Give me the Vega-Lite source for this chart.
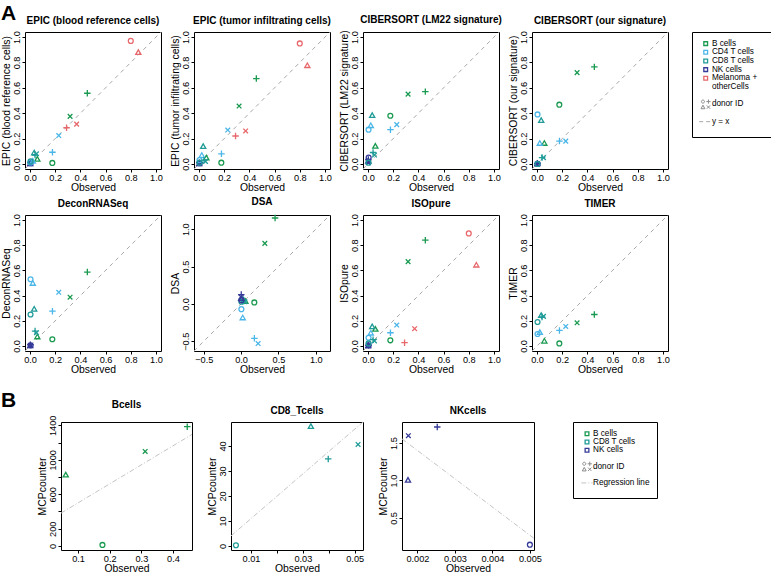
{
"$schema": "https://vega.github.io/schema/vega-lite/v6.json",
"background": "white",
"padding": {"left": 0, "top": 2, "right": 0, "bottom": 0},
"autosize": {"type": "pad"},
"config": {
 "font": "Liberation Sans",
 "view": {"stroke": "black", "strokeWidth": 1},
 "axis": {"domain": false, "grid": false, "tickColor": "black", "tickSize": 3, "tickWidth": 1, "labelColor": "black", "labelFontSize": 9.2, "labelPadding": 1, "titleColor": "black", "titleFontSize": 10.4, "titleFontWeight": "normal", "titlePadding": 1, "labelOverlap": false, "labelFlush": false},
 "axisBottom": {"titlePadding": 0},
 "axisLeft": {"labelAngle": 270, "labelAlign": "center", "labelBaseline": "bottom"},
 "title": {"fontSize": 10, "fontWeight": "bold", "color": "black", "offset": 5, "frame": "group"}
},
"datasets": {
 "lines": [
  {"p":"e1","x":-0.04,"y":-0.04,"x2":1.04,"y2":1.04},
  {"p":"e2","x":-0.04,"y":-0.04,"x2":1.04,"y2":1.04},
  {"p":"c1","x":-0.04,"y":-0.04,"x2":1.04,"y2":1.04},
  {"p":"c2","x":-0.04,"y":-0.04,"x2":1.04,"y2":1.04},
  {"p":"dr","x":-0.04,"y":-0.04,"x2":1.04,"y2":1.04},
  {"p":"ds","x":-0.63,"y":-0.63,"x2":1.19,"y2":1.19},
  {"p":"is","x":-0.04,"y":-0.04,"x2":1.04,"y2":1.04},
  {"p":"ti","x":-0.04,"y":-0.04,"x2":1.04,"y2":1.04},
  {"p":"mb","x":0.046,"y":381,"x2":0.46,"y2":1295},
  {"p":"m8","x":0.0023,"y":4.0,"x2":0.0532,"y2":49.6},
  {"p":"mn","x":0.00159,"y":1.555,"x2":0.00511,"y2":0.228}
 ],
 "pts": [
  {"p":"e1","c":"NK","d":"o","x":0.005,"y":0.005},{"p":"e1","c":"NK","d":"t","x":0.0017,"y":0.0},{"p":"e1","c":"NK","d":"p","x":0.0025,"y":0.01},{"p":"e1","c":"NK","d":"x","x":0.0017,"y":0.003},
  {"p":"e1","c":"B","d":"o","x":0.177,"y":0.008},{"p":"e1","c":"B","d":"t","x":0.058,"y":0.035},{"p":"e1","c":"B","d":"p","x":0.455,"y":0.557},{"p":"e1","c":"B","d":"x","x":0.318,"y":0.375},
  {"p":"e1","c":"CD4","d":"o","x":0.004,"y":0.012},{"p":"e1","c":"CD4","d":"t","x":0.022,"y":0.02},{"p":"e1","c":"CD4","d":"p","x":0.178,"y":0.092},{"p":"e1","c":"CD4","d":"x","x":0.228,"y":0.224},
  {"p":"e1","c":"CD8","d":"o","x":0.004,"y":0.02},{"p":"e1","c":"CD8","d":"t","x":0.033,"y":0.085},{"p":"e1","c":"CD8","d":"p","x":0.04,"y":0.07},{"p":"e1","c":"CD8","d":"x","x":0.051,"y":0.08},
  {"p":"e1","c":"Mel","d":"o","x":0.8,"y":0.97},{"p":"e1","c":"Mel","d":"t","x":0.86,"y":0.876},{"p":"e1","c":"Mel","d":"p","x":0.29,"y":0.285},{"p":"e1","c":"Mel","d":"x","x":0.37,"y":0.314},

  {"p":"e2","c":"NK","d":"o","x":0.005,"y":0.005},{"p":"e2","c":"NK","d":"t","x":0.0017,"y":0.0},{"p":"e2","c":"NK","d":"p","x":0.0025,"y":0.01},{"p":"e2","c":"NK","d":"x","x":0.0017,"y":0.003},
  {"p":"e2","c":"B","d":"o","x":0.177,"y":0.01},{"p":"e2","c":"B","d":"t","x":0.058,"y":0.045},{"p":"e2","c":"B","d":"p","x":0.455,"y":0.673},{"p":"e2","c":"B","d":"x","x":0.318,"y":0.456},
  {"p":"e2","c":"CD4","d":"o","x":0.004,"y":0.03},{"p":"e2","c":"CD4","d":"t","x":0.022,"y":0.065},{"p":"e2","c":"CD4","d":"p","x":0.178,"y":0.08},{"p":"e2","c":"CD4","d":"x","x":0.228,"y":0.267},
  {"p":"e2","c":"CD8","d":"o","x":0.004,"y":0.01},{"p":"e2","c":"CD8","d":"t","x":0.033,"y":0.135},{"p":"e2","c":"CD8","d":"p","x":0.04,"y":0.03},{"p":"e2","c":"CD8","d":"x","x":0.051,"y":0.02},
  {"p":"e2","c":"Mel","d":"o","x":0.8,"y":0.95},{"p":"e2","c":"Mel","d":"t","x":0.86,"y":0.773},{"p":"e2","c":"Mel","d":"p","x":0.29,"y":0.22},{"p":"e2","c":"Mel","d":"x","x":0.37,"y":0.26},

  {"p":"c1","c":"NK","d":"o","x":0.005,"y":0.05},{"p":"c1","c":"NK","d":"t","x":0.0017,"y":0.02},{"p":"c1","c":"NK","d":"p","x":0.0025,"y":0.035},{"p":"c1","c":"NK","d":"x","x":0.0017,"y":0.01},
  {"p":"c1","c":"B","d":"o","x":0.177,"y":0.38},{"p":"c1","c":"B","d":"t","x":0.058,"y":0.137},{"p":"c1","c":"B","d":"p","x":0.455,"y":0.57},{"p":"c1","c":"B","d":"x","x":0.318,"y":0.55},
  {"p":"c1","c":"CD4","d":"o","x":0.004,"y":0.27},{"p":"c1","c":"CD4","d":"t","x":0.022,"y":0.3},{"p":"c1","c":"CD4","d":"p","x":0.178,"y":0.27},{"p":"c1","c":"CD4","d":"x","x":0.228,"y":0.31},
  {"p":"c1","c":"CD8","d":"o","x":0.004,"y":0.01},{"p":"c1","c":"CD8","d":"t","x":0.033,"y":0.38},{"p":"c1","c":"CD8","d":"p","x":0.04,"y":0.09},{"p":"c1","c":"CD8","d":"x","x":0.051,"y":0.07},

  {"p":"c2","c":"NK","d":"o","x":0.005,"y":0.0},{"p":"c2","c":"NK","d":"t","x":0.0017,"y":0.0},{"p":"c2","c":"NK","d":"p","x":0.0025,"y":0.005},{"p":"c2","c":"NK","d":"x","x":0.0017,"y":0.0},
  {"p":"c2","c":"B","d":"o","x":0.177,"y":0.467},{"p":"c2","c":"B","d":"t","x":0.058,"y":0.16},{"p":"c2","c":"B","d":"p","x":0.455,"y":0.765},{"p":"c2","c":"B","d":"x","x":0.318,"y":0.72},
  {"p":"c2","c":"CD4","d":"o","x":0.004,"y":0.39},{"p":"c2","c":"CD4","d":"t","x":0.022,"y":0.16},{"p":"c2","c":"CD4","d":"p","x":0.178,"y":0.18},{"p":"c2","c":"CD4","d":"x","x":0.228,"y":0.18},
  {"p":"c2","c":"CD8","d":"o","x":0.004,"y":0.0},{"p":"c2","c":"CD8","d":"t","x":0.033,"y":0.34},{"p":"c2","c":"CD8","d":"p","x":0.04,"y":0.05},{"p":"c2","c":"CD8","d":"x","x":0.051,"y":0.05},

  {"p":"dr","c":"NK","d":"o","x":0.005,"y":0.005},{"p":"dr","c":"NK","d":"t","x":0.0017,"y":0.0},{"p":"dr","c":"NK","d":"p","x":0.0025,"y":0.01},{"p":"dr","c":"NK","d":"x","x":0.0017,"y":0.005},
  {"p":"dr","c":"B","d":"o","x":0.177,"y":0.053},{"p":"dr","c":"B","d":"t","x":0.058,"y":0.07},{"p":"dr","c":"B","d":"p","x":0.455,"y":0.587},{"p":"dr","c":"B","d":"x","x":0.318,"y":0.387},
  {"p":"dr","c":"CD4","d":"o","x":0.004,"y":0.53},{"p":"dr","c":"CD4","d":"t","x":0.022,"y":0.495},{"p":"dr","c":"CD4","d":"p","x":0.178,"y":0.276},{"p":"dr","c":"CD4","d":"x","x":0.228,"y":0.426},
  {"p":"dr","c":"CD8","d":"o","x":0.004,"y":0.25},{"p":"dr","c":"CD8","d":"t","x":0.033,"y":0.29},{"p":"dr","c":"CD8","d":"p","x":0.04,"y":0.118},{"p":"dr","c":"CD8","d":"x","x":0.051,"y":0.105},

  {"p":"ds","c":"B","d":"o","x":0.177,"y":0.02},{"p":"ds","c":"B","d":"t","x":0.058,"y":0.03},{"p":"ds","c":"B","d":"p","x":0.455,"y":1.15},{"p":"ds","c":"B","d":"x","x":0.318,"y":0.81},
  {"p":"ds","c":"CD4","d":"o","x":0.004,"y":-0.07},{"p":"ds","c":"CD4","d":"t","x":0.022,"y":-0.19},{"p":"ds","c":"CD4","d":"p","x":0.178,"y":-0.46},{"p":"ds","c":"CD4","d":"x","x":0.228,"y":-0.53},
  {"p":"ds","c":"CD8","d":"o","x":0.004,"y":0.03},{"p":"ds","c":"CD8","d":"t","x":0.033,"y":0.05},{"p":"ds","c":"CD8","d":"p","x":0.04,"y":0.04},{"p":"ds","c":"CD8","d":"x","x":0.051,"y":0.03},
  {"p":"ds","c":"NK","d":"o","x":0.005,"y":0.05},{"p":"ds","c":"NK","d":"t","x":0.0017,"y":0.07},{"p":"ds","c":"NK","d":"p","x":0.0025,"y":0.125},{"p":"ds","c":"NK","d":"x","x":0.0017,"y":0.09},

  {"p":"is","c":"NK","d":"o","x":0.005,"y":0.005},{"p":"is","c":"NK","d":"t","x":0.0017,"y":0.0},{"p":"is","c":"NK","d":"p","x":0.0025,"y":0.005},{"p":"is","c":"NK","d":"x","x":0.0017,"y":0.0},
  {"p":"is","c":"B","d":"o","x":0.177,"y":0.045},{"p":"is","c":"B","d":"t","x":0.058,"y":0.13},{"p":"is","c":"B","d":"p","x":0.455,"y":0.84},{"p":"is","c":"B","d":"x","x":0.318,"y":0.67},
  {"p":"is","c":"CD4","d":"o","x":0.004,"y":0.065},{"p":"is","c":"CD4","d":"t","x":0.022,"y":0.1},{"p":"is","c":"CD4","d":"p","x":0.178,"y":0.105},{"p":"is","c":"CD4","d":"x","x":0.228,"y":0.166},
  {"p":"is","c":"CD8","d":"o","x":0.004,"y":0.02},{"p":"is","c":"CD8","d":"t","x":0.033,"y":0.15},{"p":"is","c":"CD8","d":"p","x":0.04,"y":0.05},{"p":"is","c":"CD8","d":"x","x":0.051,"y":0.04},
  {"p":"is","c":"Mel","d":"o","x":0.8,"y":0.894},{"p":"is","c":"Mel","d":"t","x":0.86,"y":0.64},{"p":"is","c":"Mel","d":"p","x":0.29,"y":0.026},{"p":"is","c":"Mel","d":"x","x":0.37,"y":0.137},

  {"p":"ti","c":"B","d":"o","x":0.177,"y":0.02},{"p":"ti","c":"B","d":"t","x":0.058,"y":0.036},{"p":"ti","c":"B","d":"p","x":0.455,"y":0.25},{"p":"ti","c":"B","d":"x","x":0.318,"y":0.184},
  {"p":"ti","c":"CD4","d":"o","x":0.004,"y":0.095},{"p":"ti","c":"CD4","d":"t","x":0.022,"y":0.105},{"p":"ti","c":"CD4","d":"p","x":0.178,"y":0.123},{"p":"ti","c":"CD4","d":"x","x":0.228,"y":0.155},
  {"p":"ti","c":"CD8","d":"o","x":0.004,"y":0.19},{"p":"ti","c":"CD8","d":"t","x":0.033,"y":0.24},{"p":"ti","c":"CD8","d":"p","x":0.04,"y":0.23},{"p":"ti","c":"CD8","d":"x","x":0.051,"y":0.235},

  {"p":"mb","c":"B","d":"t","x":0.061,"y":821},{"p":"mb","c":"B","d":"o","x":0.177,"y":12},{"p":"mb","c":"B","d":"x","x":0.312,"y":1097},{"p":"mb","c":"B","d":"p","x":0.445,"y":1385},
  {"p":"m8","c":"CD8","d":"o","x":0.0042,"y":0.24},{"p":"m8","c":"CD8","d":"t","x":0.0331,"y":47.7},{"p":"m8","c":"CD8","d":"p","x":0.0398,"y":34.8},{"p":"m8","c":"CD8","d":"x","x":0.0513,"y":40.6},
  {"p":"mn","c":"NK","d":"x","x":0.00176,"y":1.597},{"p":"mn","c":"NK","d":"t","x":0.00175,"y":1.0},{"p":"mn","c":"NK","d":"p","x":0.00253,"y":1.713},{"p":"mn","c":"NK","d":"o","x":0.005,"y":0.144}
 ]
},
"columns": 2,
"bounds": "flush",
"align": {"row": "each", "column": "none"},
"spacing": {"row": 46, "column": 1},
"concat": [
 {"width": 21, "height": 137, "view": {"stroke": "transparent"}, "title": {"text": "A", "anchor": "start", "frame": "group", "fontSize": 21, "offset": 8, "dx": -2}, "data": {"values": [{"k": 1}]}, "mark": {"type": "point", "opacity": 0}},
 {"hconcat": [
  {"width": 136, "height": 137, "title": "EPIC (blood reference cells)",
   "encoding": {"x": {"field": "x", "type": "quantitative", "scale": {"domain": [-0.04, 1.04], "nice": false, "zero": false}, "axis": {"title": "Observed", "values": [0, 0.2, 0.4, 0.6, 0.8, 1], "format": ".1f"}},
                "y": {"field": "y", "type": "quantitative", "scale": {"domain": [-0.04, 1.04], "nice": false, "zero": false}, "axis": {"title": "EPIC (blood reference cells)", "values": [0, 0.2, 0.4, 0.6, 0.8, 1], "format": ".1f"}}},
   "layer": [
    {"data": {"name": "lines"}, "transform": [{"filter": "datum.p=='e1'"}], "mark": {"type": "rule", "color": "#a8a8a8", "strokeDash": [4, 4], "strokeWidth": 1}, "encoding": {"x2": {"field": "x2"}, "y2": {"field": "y2"}}},
    {"data": {"name": "pts"}, "transform": [{"filter": "datum.p=='e1'"}], "mark": {"type": "point", "filled": false, "strokeWidth": 1.3, "size": 42, "opacity": 1},
     "encoding": {"color": {"field": "c", "type": "nominal", "scale": {"domain": ["B", "CD4", "CD8", "NK", "Mel"], "range": ["#1a9a50", "#4ab6e8", "#1f9b98", "#343a97", "#e8676b"]}, "legend": null},
                  "shape": {"field": "d", "type": "nominal", "scale": {"domain": ["o", "t", "p", "x"], "range": ["M0.75,0A0.75,0.75,0,1,1,-0.75,0A0.75,0.75,0,1,1,0.75,0Z", "M0,-0.9L0.8,0.5L-0.8,0.5Z", "M-1,0L1,0M0,-1L0,1", "M-0.72,-0.72L0.72,0.72M-0.72,0.72L0.72,-0.72"]}, "legend": null}}}
   ]},
  {"width": 136, "height": 137, "title": "EPIC (tumor infiltrating cells)",
   "encoding": {"x": {"field": "x", "type": "quantitative", "scale": {"domain": [-0.04, 1.04], "nice": false, "zero": false}, "axis": {"title": "Observed", "values": [0, 0.2, 0.4, 0.6, 0.8, 1], "format": ".1f"}},
                "y": {"field": "y", "type": "quantitative", "scale": {"domain": [-0.04, 1.04], "nice": false, "zero": false}, "axis": {"title": "EPIC (tumor infiltrating cells)", "values": [0, 0.2, 0.4, 0.6, 0.8, 1], "format": ".1f"}}},
   "layer": [
    {"data": {"name": "lines"}, "transform": [{"filter": "datum.p=='e2'"}], "mark": {"type": "rule", "color": "#a8a8a8", "strokeDash": [4, 4], "strokeWidth": 1}, "encoding": {"x2": {"field": "x2"}, "y2": {"field": "y2"}}},
    {"data": {"name": "pts"}, "transform": [{"filter": "datum.p=='e2'"}], "mark": {"type": "point", "filled": false, "strokeWidth": 1.3, "size": 42, "opacity": 1},
     "encoding": {"color": {"field": "c", "type": "nominal", "scale": {"domain": ["B", "CD4", "CD8", "NK", "Mel"], "range": ["#1a9a50", "#4ab6e8", "#1f9b98", "#343a97", "#e8676b"]}, "legend": null},
                  "shape": {"field": "d", "type": "nominal", "scale": {"domain": ["o", "t", "p", "x"], "range": ["M0.75,0A0.75,0.75,0,1,1,-0.75,0A0.75,0.75,0,1,1,0.75,0Z", "M0,-0.9L0.8,0.5L-0.8,0.5Z", "M-1,0L1,0M0,-1L0,1", "M-0.72,-0.72L0.72,0.72M-0.72,0.72L0.72,-0.72"]}, "legend": null}}}
   ]},
  {"width": 136, "height": 137, "title": "CIBERSORT (LM22 signature)",
   "encoding": {"x": {"field": "x", "type": "quantitative", "scale": {"domain": [-0.04, 1.04], "nice": false, "zero": false}, "axis": {"title": "Observed", "values": [0, 0.2, 0.4, 0.6, 0.8, 1], "format": ".1f"}},
                "y": {"field": "y", "type": "quantitative", "scale": {"domain": [-0.04, 1.04], "nice": false, "zero": false}, "axis": {"title": "CIBERSORT (LM22 signature)", "values": [0, 0.2, 0.4, 0.6, 0.8, 1], "format": ".1f"}}},
   "layer": [
    {"data": {"name": "lines"}, "transform": [{"filter": "datum.p=='c1'"}], "mark": {"type": "rule", "color": "#a8a8a8", "strokeDash": [4, 4], "strokeWidth": 1}, "encoding": {"x2": {"field": "x2"}, "y2": {"field": "y2"}}},
    {"data": {"name": "pts"}, "transform": [{"filter": "datum.p=='c1'"}], "mark": {"type": "point", "filled": false, "strokeWidth": 1.3, "size": 42, "opacity": 1},
     "encoding": {"color": {"field": "c", "type": "nominal", "scale": {"domain": ["B", "CD4", "CD8", "NK", "Mel"], "range": ["#1a9a50", "#4ab6e8", "#1f9b98", "#343a97", "#e8676b"]}, "legend": null},
                  "shape": {"field": "d", "type": "nominal", "scale": {"domain": ["o", "t", "p", "x"], "range": ["M0.75,0A0.75,0.75,0,1,1,-0.75,0A0.75,0.75,0,1,1,0.75,0Z", "M0,-0.9L0.8,0.5L-0.8,0.5Z", "M-1,0L1,0M0,-1L0,1", "M-0.72,-0.72L0.72,0.72M-0.72,0.72L0.72,-0.72"]}, "legend": null}}}
   ]},
  {"hconcat": [
   {"width": 136, "height": 137, "title": "CIBERSORT (our signature)",
    "encoding": {"x": {"field": "x", "type": "quantitative", "scale": {"domain": [-0.04, 1.04], "nice": false, "zero": false}, "axis": {"title": "Observed", "values": [0, 0.2, 0.4, 0.6, 0.8, 1], "format": ".1f"}},
                 "y": {"field": "y", "type": "quantitative", "scale": {"domain": [-0.04, 1.04], "nice": false, "zero": false}, "axis": {"title": "CIBERSORT (our signature)", "values": [0, 0.2, 0.4, 0.6, 0.8, 1], "format": ".1f"}}},
    "layer": [
     {"data": {"name": "lines"}, "transform": [{"filter": "datum.p=='c2'"}], "mark": {"type": "rule", "color": "#a8a8a8", "strokeDash": [4, 4], "strokeWidth": 1}, "encoding": {"x2": {"field": "x2"}, "y2": {"field": "y2"}}},
     {"data": {"name": "pts"}, "transform": [{"filter": "datum.p=='c2'"}], "mark": {"type": "point", "filled": false, "strokeWidth": 1.3, "size": 42, "opacity": 1},
      "encoding": {"color": {"field": "c", "type": "nominal", "scale": {"domain": ["B", "CD4", "CD8", "NK", "Mel"], "range": ["#1a9a50", "#4ab6e8", "#1f9b98", "#343a97", "#e8676b"]}, "legend": null},
                   "shape": {"field": "d", "type": "nominal", "scale": {"domain": ["o", "t", "p", "x"], "range": ["M0.75,0A0.75,0.75,0,1,1,-0.75,0A0.75,0.75,0,1,1,0.75,0Z", "M0,-0.9L0.8,0.5L-0.8,0.5Z", "M-1,0L1,0M0,-1L0,1", "M-0.72,-0.72L0.72,0.72M-0.72,0.72L0.72,-0.72"]}, "legend": null}}}
    ]},
   {"width": 80, "height": 105,
    "data": {"values": [{"lab": "B cells", "c": "B"}, {"lab": "CD4 T cells", "c": "CD4"}, {"lab": "CD8 T cells", "c": "CD8"}, {"lab": "NK cells", "c": "NK"}, {"lab": "Melanoma +", "c": "Mel"}, {"lab": "otherCells"}, {"lab": "donor ID"}, {"lab": "y = x"}]},
    "encoding": {"y": {"field": "lab", "type": "ordinal", "scale": {"type": "point", "domain": ["B cells", "CD4 T cells", "CD8 T cells", "NK cells", "Melanoma +", "otherCells", "gap1", "donor ID", "gap2", "y = x"], "range": [7.3, 94]}, "axis": null}},
    "layer": [
     {"transform": [{"filter": "isValid(datum.c)"}], "mark": {"type": "point", "shape": "square", "filled": false, "size": 14, "strokeWidth": 1.3, "opacity": 1},
      "encoding": {"x": {"datum": "sym", "type": "ordinal", "scale": {"type": "point", "domain": ["sym", "txt"], "range": [10.6, 23]}, "axis": null},
                   "color": {"field": "c", "type": "nominal", "scale": {"domain": ["B", "CD4", "CD8", "NK", "Mel"], "range": ["#1a9a50", "#4ab6e8", "#1f9b98", "#343a97", "#e8676b"]}, "legend": null}}},
     {"transform": [{"filter": "datum.lab=='donor ID'"}], "mark": {"type": "point", "shape": "M-0.22,-0.5A0.28,0.28,0,1,1,-0.78,-0.5A0.28,0.28,0,1,1,-0.22,-0.5ZM0.12,-0.5L0.88,-0.5M0.5,-0.88L0.5,-0.12M-0.5,0.15L-0.15,0.8L-0.85,0.8ZM0.2,0.2L0.8,0.8M0.2,0.8L0.8,0.2", "filled": false, "size": 121, "strokeWidth": 1, "color": "#8c8c8c", "opacity": 1},
      "encoding": {"x": {"datum": "sym", "type": "ordinal", "scale": {"type": "point", "domain": ["sym", "txt"], "range": [10.6, 23]}, "axis": null}}},
     {"transform": [{"filter": "datum.lab=='y = x'"}], "mark": {"type": "point", "shape": "M-1,0L1,0", "filled": false, "size": 170, "strokeWidth": 1, "color": "#a8a8a8", "strokeDash": [4, 3], "opacity": 1},
      "encoding": {"x": {"datum": "sym", "type": "ordinal", "scale": {"type": "point", "domain": ["sym", "txt"], "range": [10.6, 23]}, "axis": null}}},
     {"mark": {"type": "text", "align": "left", "baseline": "middle", "fontSize": 8.2, "color": "black"},
      "encoding": {"x": {"datum": "txt", "type": "ordinal", "scale": {"type": "point", "domain": ["sym", "txt"], "range": [10.6, 23]}, "axis": null}, "text": {"field": "lab"}}}
    ]}
  ], "spacing": 24, "bounds": "flush"}
 ], "spacing": 33, "bounds": "flush"},

 {"width": 21, "height": 161, "view": {"stroke": "transparent"}, "data": {"values": [{"k": 1}]}, "mark": {"type": "point", "opacity": 0}},
 {"hconcat": [
  {"width": 136, "height": 136, "title": "DeconRNASeq",
   "encoding": {"x": {"field": "x", "type": "quantitative", "scale": {"domain": [-0.04, 1.04], "nice": false, "zero": false}, "axis": {"title": "Observed", "values": [0, 0.2, 0.4, 0.6, 0.8, 1], "format": ".1f"}},
                "y": {"field": "y", "type": "quantitative", "scale": {"domain": [-0.04, 1.04], "nice": false, "zero": false}, "axis": {"title": "DeconRNASeq", "values": [0, 0.2, 0.4, 0.6, 0.8, 1], "format": ".1f"}}},
   "layer": [
    {"data": {"name": "lines"}, "transform": [{"filter": "datum.p=='dr'"}], "mark": {"type": "rule", "color": "#a8a8a8", "strokeDash": [4, 4], "strokeWidth": 1}, "encoding": {"x2": {"field": "x2"}, "y2": {"field": "y2"}}},
    {"data": {"name": "pts"}, "transform": [{"filter": "datum.p=='dr'"}], "mark": {"type": "point", "filled": false, "strokeWidth": 1.3, "size": 42, "opacity": 1},
     "encoding": {"color": {"field": "c", "type": "nominal", "scale": {"domain": ["B", "CD4", "CD8", "NK", "Mel"], "range": ["#1a9a50", "#4ab6e8", "#1f9b98", "#343a97", "#e8676b"]}, "legend": null},
                  "shape": {"field": "d", "type": "nominal", "scale": {"domain": ["o", "t", "p", "x"], "range": ["M0.75,0A0.75,0.75,0,1,1,-0.75,0A0.75,0.75,0,1,1,0.75,0Z", "M0,-0.9L0.8,0.5L-0.8,0.5Z", "M-1,0L1,0M0,-1L0,1", "M-0.72,-0.72L0.72,0.72M-0.72,0.72L0.72,-0.72"]}, "legend": null}}}
   ]},
  {"width": 136, "height": 136, "title": "DSA",
   "encoding": {"x": {"field": "x", "type": "quantitative", "scale": {"domain": [-0.63, 1.19], "nice": false, "zero": false}, "axis": {"title": "Observed", "values": [-0.5, 0, 0.5, 1], "format": ".1f"}},
                "y": {"field": "y", "type": "quantitative", "scale": {"domain": [-0.63, 1.19], "nice": false, "zero": false}, "axis": {"title": "DSA", "values": [-0.5, 0, 0.5, 1], "format": ".1f"}}},
   "layer": [
    {"data": {"name": "lines"}, "transform": [{"filter": "datum.p=='ds'"}], "mark": {"type": "rule", "color": "#a8a8a8", "strokeDash": [4, 4], "strokeWidth": 1}, "encoding": {"x2": {"field": "x2"}, "y2": {"field": "y2"}}},
    {"data": {"name": "pts"}, "transform": [{"filter": "datum.p=='ds'"}], "mark": {"type": "point", "filled": false, "strokeWidth": 1.3, "size": 42, "opacity": 1},
     "encoding": {"color": {"field": "c", "type": "nominal", "scale": {"domain": ["B", "CD4", "CD8", "NK", "Mel"], "range": ["#1a9a50", "#4ab6e8", "#1f9b98", "#343a97", "#e8676b"]}, "legend": null},
                  "shape": {"field": "d", "type": "nominal", "scale": {"domain": ["o", "t", "p", "x"], "range": ["M0.75,0A0.75,0.75,0,1,1,-0.75,0A0.75,0.75,0,1,1,0.75,0Z", "M0,-0.9L0.8,0.5L-0.8,0.5Z", "M-1,0L1,0M0,-1L0,1", "M-0.72,-0.72L0.72,0.72M-0.72,0.72L0.72,-0.72"]}, "legend": null}}}
   ]},
  {"width": 136, "height": 136, "title": "ISOpure",
   "encoding": {"x": {"field": "x", "type": "quantitative", "scale": {"domain": [-0.04, 1.04], "nice": false, "zero": false}, "axis": {"title": "Observed", "values": [0, 0.2, 0.4, 0.6, 0.8, 1], "format": ".1f"}},
                "y": {"field": "y", "type": "quantitative", "scale": {"domain": [-0.04, 1.04], "nice": false, "zero": false}, "axis": {"title": "ISOpure", "values": [0, 0.2, 0.4, 0.6, 0.8, 1], "format": ".1f"}}},
   "layer": [
    {"data": {"name": "lines"}, "transform": [{"filter": "datum.p=='is'"}], "mark": {"type": "rule", "color": "#a8a8a8", "strokeDash": [4, 4], "strokeWidth": 1}, "encoding": {"x2": {"field": "x2"}, "y2": {"field": "y2"}}},
    {"data": {"name": "pts"}, "transform": [{"filter": "datum.p=='is'"}], "mark": {"type": "point", "filled": false, "strokeWidth": 1.3, "size": 42, "opacity": 1},
     "encoding": {"color": {"field": "c", "type": "nominal", "scale": {"domain": ["B", "CD4", "CD8", "NK", "Mel"], "range": ["#1a9a50", "#4ab6e8", "#1f9b98", "#343a97", "#e8676b"]}, "legend": null},
                  "shape": {"field": "d", "type": "nominal", "scale": {"domain": ["o", "t", "p", "x"], "range": ["M0.75,0A0.75,0.75,0,1,1,-0.75,0A0.75,0.75,0,1,1,0.75,0Z", "M0,-0.9L0.8,0.5L-0.8,0.5Z", "M-1,0L1,0M0,-1L0,1", "M-0.72,-0.72L0.72,0.72M-0.72,0.72L0.72,-0.72"]}, "legend": null}}}
   ]},
  {"width": 136, "height": 136, "title": "TIMER",
   "encoding": {"x": {"field": "x", "type": "quantitative", "scale": {"domain": [-0.04, 1.04], "nice": false, "zero": false}, "axis": {"title": "Observed", "values": [0, 0.2, 0.4, 0.6, 0.8, 1], "format": ".1f"}},
                "y": {"field": "y", "type": "quantitative", "scale": {"domain": [-0.04, 1.04], "nice": false, "zero": false}, "axis": {"title": "TIMER", "values": [0, 0.2, 0.4, 0.6, 0.8, 1], "format": ".1f"}}},
   "layer": [
    {"data": {"name": "lines"}, "transform": [{"filter": "datum.p=='ti'"}], "mark": {"type": "rule", "color": "#a8a8a8", "strokeDash": [4, 4], "strokeWidth": 1}, "encoding": {"x2": {"field": "x2"}, "y2": {"field": "y2"}}},
    {"data": {"name": "pts"}, "transform": [{"filter": "datum.p=='ti'"}], "mark": {"type": "point", "filled": false, "strokeWidth": 1.3, "size": 42, "opacity": 1},
     "encoding": {"color": {"field": "c", "type": "nominal", "scale": {"domain": ["B", "CD4", "CD8", "NK", "Mel"], "range": ["#1a9a50", "#4ab6e8", "#1f9b98", "#343a97", "#e8676b"]}, "legend": null},
                  "shape": {"field": "d", "type": "nominal", "scale": {"domain": ["o", "t", "p", "x"], "range": ["M0.75,0A0.75,0.75,0,1,1,-0.75,0A0.75,0.75,0,1,1,0.75,0Z", "M0,-0.9L0.8,0.5L-0.8,0.5Z", "M-1,0L1,0M0,-1L0,1", "M-0.72,-0.72L0.72,0.72M-0.72,0.72L0.72,-0.72"]}, "legend": null}}}
   ]}
 ], "spacing": 33, "bounds": "flush"},

 {"width": 21, "height": 128, "view": {"stroke": "transparent"}, "title": {"text": "B", "anchor": "start", "frame": "group", "fontSize": 21, "offset": 11.5, "dx": -2}, "data": {"values": [{"k": 1}]}, "mark": {"type": "point", "opacity": 0}},
 {"hconcat": [
  {"width": 35, "height": 128, "view": {"stroke": "transparent"}, "data": {"values": [{"k": 1}]}, "mark": {"type": "point", "opacity": 0}},
  {"hconcat": [
   {"width": 131, "height": 128, "title": "Bcells",
    "encoding": {"x": {"field": "x", "type": "quantitative", "scale": {"domain": [0.046, 0.46], "nice": false, "zero": false}, "axis": {"title": "Observed", "values": [0.1, 0.2, 0.3, 0.4], "format": ".1f"}},
                 "y": {"field": "y", "type": "quantitative", "scale": {"domain": [-47, 1439], "nice": false, "zero": false}, "axis": {"title": "MCPcounter", "values": [0, 200, 400, 600, 800, 1000, 1200, 1400], "format": "d", "labelExpr": "(datum.value==400||datum.value==800||datum.value==1200)?'':datum.label"}}},
    "layer": [
     {"data": {"name": "lines"}, "transform": [{"filter": "datum.p=='mb'"}], "mark": {"type": "rule", "color": "#c4c4c4", "strokeDash": [5, 2, 1, 2], "strokeWidth": 1}, "encoding": {"x2": {"field": "x2"}, "y2": {"field": "y2"}}},
     {"data": {"name": "pts"}, "transform": [{"filter": "datum.p=='mb'"}], "mark": {"type": "point", "filled": false, "strokeWidth": 1.3, "size": 42, "opacity": 1},
      "encoding": {"color": {"field": "c", "type": "nominal", "scale": {"domain": ["B", "CD4", "CD8", "NK", "Mel"], "range": ["#1a9a50", "#4ab6e8", "#1f9b98", "#343a97", "#e8676b"]}, "legend": null},
                   "shape": {"field": "d", "type": "nominal", "scale": {"domain": ["o", "t", "p", "x"], "range": ["M0.75,0A0.75,0.75,0,1,1,-0.75,0A0.75,0.75,0,1,1,0.75,0Z", "M0,-0.9L0.8,0.5L-0.8,0.5Z", "M-1,0L1,0M0,-1L0,1", "M-0.72,-0.72L0.72,0.72M-0.72,0.72L0.72,-0.72"]}, "legend": null}}}
    ]},
   {"width": 132, "height": 128, "title": "CD8_Tcells",
    "encoding": {"x": {"field": "x", "type": "quantitative", "scale": {"domain": [0.0023, 0.0532], "nice": false, "zero": false}, "axis": {"title": "Observed", "values": [0.01, 0.02, 0.03, 0.04, 0.05], "format": ".2f", "labelExpr": "(datum.value>0.015&&datum.value<0.025)||(datum.value>0.035&&datum.value<0.045)?'':datum.label"}},
                 "y": {"field": "y", "type": "quantitative", "scale": {"domain": [-1.66, 49.6], "nice": false, "zero": false}, "axis": {"title": "MCPcounter", "values": [0, 10, 20, 30, 40], "format": "d"}}},
    "layer": [
     {"data": {"name": "lines"}, "transform": [{"filter": "datum.p=='m8'"}], "mark": {"type": "rule", "color": "#c4c4c4", "strokeDash": [5, 2, 1, 2], "strokeWidth": 1}, "encoding": {"x2": {"field": "x2"}, "y2": {"field": "y2"}}},
     {"data": {"name": "pts"}, "transform": [{"filter": "datum.p=='m8'"}], "mark": {"type": "point", "filled": false, "strokeWidth": 1.3, "size": 42, "opacity": 1},
      "encoding": {"color": {"field": "c", "type": "nominal", "scale": {"domain": ["B", "CD4", "CD8", "NK", "Mel"], "range": ["#1a9a50", "#4ab6e8", "#1f9b98", "#343a97", "#e8676b"]}, "legend": null},
                   "shape": {"field": "d", "type": "nominal", "scale": {"domain": ["o", "t", "p", "x"], "range": ["M0.75,0A0.75,0.75,0,1,1,-0.75,0A0.75,0.75,0,1,1,0.75,0Z", "M0,-0.9L0.8,0.5L-0.8,0.5Z", "M-1,0L1,0M0,-1L0,1", "M-0.72,-0.72L0.72,0.72M-0.72,0.72L0.72,-0.72"]}, "legend": null}}}
    ]},
   {"width": 132, "height": 128, "title": "NKcells",
    "encoding": {"x": {"field": "x", "type": "quantitative", "scale": {"domain": [0.00159, 0.00511], "nice": false, "zero": false}, "axis": {"title": "Observed", "values": [0.002, 0.003, 0.004, 0.005], "format": ".3f"}},
                 "y": {"field": "y", "type": "quantitative", "scale": {"domain": [0.073, 1.78], "nice": false, "zero": false}, "axis": {"title": "MCPcounter", "values": [0.5, 1, 1.5], "format": ".1f"}}},
    "layer": [
     {"data": {"name": "lines"}, "transform": [{"filter": "datum.p=='mn'"}], "mark": {"type": "rule", "color": "#c4c4c4", "strokeDash": [5, 2, 1, 2], "strokeWidth": 1}, "encoding": {"x2": {"field": "x2"}, "y2": {"field": "y2"}}},
     {"data": {"name": "pts"}, "transform": [{"filter": "datum.p=='mn'"}], "mark": {"type": "point", "filled": false, "strokeWidth": 1.3, "size": 42, "opacity": 1},
      "encoding": {"color": {"field": "c", "type": "nominal", "scale": {"domain": ["B", "CD4", "CD8", "NK", "Mel"], "range": ["#1a9a50", "#4ab6e8", "#1f9b98", "#343a97", "#e8676b"]}, "legend": null},
                   "shape": {"field": "d", "type": "nominal", "scale": {"domain": ["o", "t", "p", "x"], "range": ["M0.75,0A0.75,0.75,0,1,1,-0.75,0A0.75,0.75,0,1,1,0.75,0Z", "M0,-0.9L0.8,0.5L-0.8,0.5Z", "M-1,0L1,0M0,-1L0,1", "M-0.72,-0.72L0.72,0.72M-0.72,0.72L0.72,-0.72"]}, "legend": null}}}
    ]},
   {"width": 84, "height": 76,
    "data": {"values": [{"lab": "B cells", "c": "B"}, {"lab": "CD8 T cells", "c": "CD8"}, {"lab": "NK cells", "c": "NK"}, {"lab": "donor ID"}, {"lab": "Regression line"}]},
    "encoding": {"y": {"field": "lab", "type": "ordinal", "scale": {"type": "point", "domain": ["B cells", "CD8 T cells", "NK cells", "gap1", "donor ID", "gap2", "Regression line"], "range": [7.7, 65]}, "axis": null}},
    "layer": [
     {"transform": [{"filter": "isValid(datum.c)"}], "mark": {"type": "point", "shape": "square", "filled": false, "size": 14, "strokeWidth": 1.3, "opacity": 1},
      "encoding": {"x": {"datum": "sym", "type": "ordinal", "scale": {"type": "point", "domain": ["sym", "txt"], "range": [11, 23]}, "axis": null},
                   "color": {"field": "c", "type": "nominal", "scale": {"domain": ["B", "CD4", "CD8", "NK", "Mel"], "range": ["#1a9a50", "#4ab6e8", "#1f9b98", "#343a97", "#e8676b"]}, "legend": null}}},
     {"transform": [{"filter": "datum.lab=='donor ID'"}], "mark": {"type": "point", "shape": "M-0.22,-0.5A0.28,0.28,0,1,1,-0.78,-0.5A0.28,0.28,0,1,1,-0.22,-0.5ZM0.12,-0.5L0.88,-0.5M0.5,-0.88L0.5,-0.12M-0.5,0.15L-0.15,0.8L-0.85,0.8ZM0.2,0.2L0.8,0.8M0.2,0.8L0.8,0.2", "filled": false, "size": 121, "strokeWidth": 1, "color": "#8c8c8c", "opacity": 1},
      "encoding": {"x": {"datum": "sym", "type": "ordinal", "scale": {"type": "point", "domain": ["sym", "txt"], "range": [11, 23]}, "axis": null}}},
     {"transform": [{"filter": "datum.lab=='Regression line'"}], "mark": {"type": "point", "shape": "M-1,0L1,0", "filled": false, "size": 130, "strokeWidth": 1, "color": "#c4c4c4", "strokeDash": [5, 2, 1, 2], "opacity": 1},
      "encoding": {"x": {"datum": "sym", "type": "ordinal", "scale": {"type": "point", "domain": ["sym", "txt"], "range": [11, 23]}, "axis": null}}},
     {"mark": {"type": "text", "align": "left", "baseline": "middle", "fontSize": 8.2, "color": "black"},
      "encoding": {"x": {"datum": "txt", "type": "ordinal", "scale": {"type": "point", "domain": ["sym", "txt"], "range": [11, 23]}, "axis": null}, "text": {"field": "lab"}}}
    ]}
  ], "spacing": 39, "bounds": "flush"}
 ], "spacing": 1, "bounds": "flush"}
]
}
